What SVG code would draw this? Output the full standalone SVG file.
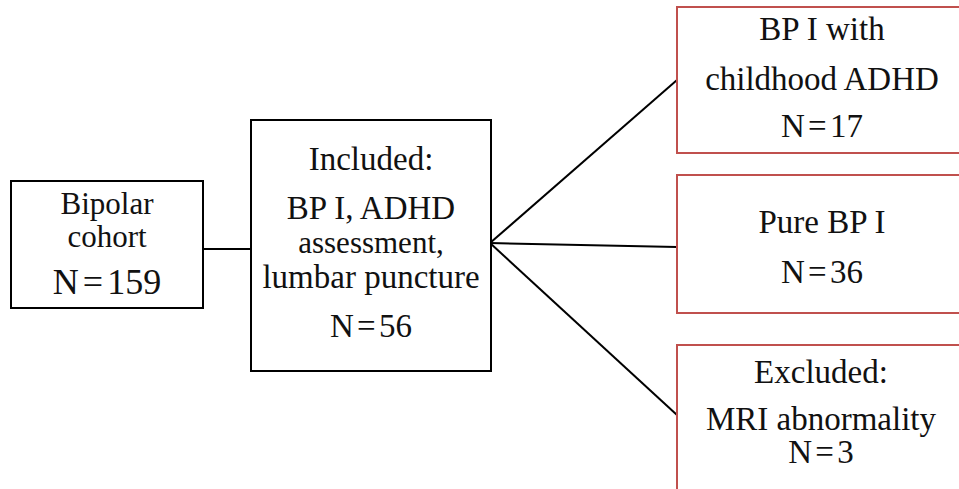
<svg xmlns="http://www.w3.org/2000/svg" width="959" height="489" viewBox="0 0 959 489">
  <style>
    .box { fill: #ffffff; stroke: #000000; stroke-width: 2; }
    .group { fill: #ffffff; stroke: #c0504d; stroke-width: 2; }
    .link { fill: none; stroke: #000000; stroke-width: 2; }
    text { font-family: "Liberation Serif", "Times New Roman", serif; font-size: 33px; fill: #111111; text-anchor: middle; }
    .n { word-spacing: -5px; }
    .tight { font-size: 31px; }
  </style>
  <rect width="959" height="489" fill="#ffffff"/>

  <g id="connectors">
    <line class="link" x1="203" y1="249" x2="251" y2="249"/>
    <line class="link" x1="490" y1="243" x2="677" y2="80"/>
    <line class="link" x1="490" y1="243" x2="677" y2="247"/>
    <line class="link" x1="490" y1="243" x2="677" y2="415"/>
  </g>

  <g id="cohort">
    <rect class="box" x="11" y="181" width="192" height="127"/>
    <text class="tight" x="107" y="214">Bipolar</text>
    <text class="tight" x="107" y="247">cohort</text>
    <text class="n" x="107" y="294" style="font-size:36px">N = 159</text>
  </g>

  <g id="included">
    <rect class="box" x="251" y="120" width="240" height="251"/>
    <text x="371" y="170">Included:</text>
    <text x="371" y="219">BP I, ADHD</text>
    <text class="tight" x="371" y="253">assessment,</text>
    <text x="371" y="288">lumbar puncture</text>
    <text class="n" x="371" y="337">N = 56</text>
  </g>

  <g id="bp-adhd">
    <rect class="group" x="677" y="7" width="300" height="146"/>
    <text x="822" y="40">BP I with</text>
    <text x="822" y="90">childhood ADHD</text>
    <text class="n" x="822" y="137">N = 17</text>
  </g>

  <g id="pure-bp">
    <rect class="group" x="677" y="175" width="300" height="138"/>
    <text x="822" y="233">Pure BP I</text>
    <text class="n" x="822" y="283">N = 36</text>
  </g>

  <g id="excluded">
    <rect class="group" x="677" y="345" width="300" height="160"/>
    <text x="821" y="383">Excluded:</text>
    <text x="821" y="430">MRI abnormality</text>
    <text class="n" x="821" y="463">N = 3</text>
  </g>
</svg>
